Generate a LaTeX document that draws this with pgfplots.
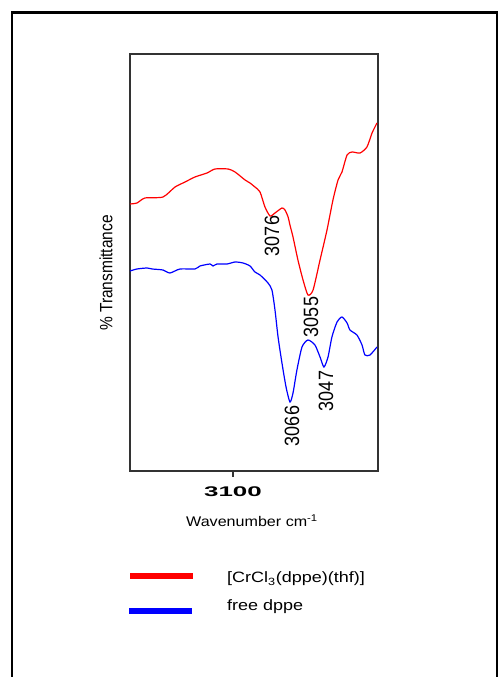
\documentclass[border=0pt]{standalone}
\usepackage{pgfplots}
\pgfplotsset{compat=1.18}
\usepackage{fontspec}
\setmainfont{Liberation Sans}
\begin{document}
\begin{tikzpicture}[x=1pt,y=1pt]
\useasboundingbox (0pt,0pt) rectangle (503pt,677pt);
\draw[line width=2.5pt, black] (12pt,-20pt) rectangle (497pt,664.5pt);
\begin{axis}[at={(130pt,206pt)}, anchor=south west, scale only axis,
  width=248pt, height=417pt,
  x dir=reverse, xmin=3014.7, xmax=3160.6, ymin=0, ymax=417,
  xtick={3100}, xticklabels={}, ytick=\empty,
  tick align=outside, major tick length=6pt, xtick pos=bottom,
  tick style={line width=1.2pt, black!80},
  axis line style={line width=1.3pt, black!80},
  clip=false]
\addplot[red, line width=1.2pt, smooth, tension=0.4] coordinates {
(3160.6,267) (3156.5,268) (3151.8,273) (3141.2,274) (3134.1,284) (3128.2,289)
(3122.4,294) (3115.3,298) (3110.6,302) (3102.9,302) (3098.8,299) (3092.9,291)
(3090,288) (3087.1,284) (3084.1,279) (3081.2,264) (3078.2,255) (3075.3,258)
(3071.2,263) (3069.4,261) (3067.6,254) (3066.5,246) (3064.7,234) (3061.8,211)
(3058.8,191) (3055.9,176) (3052.9,181) (3048.8,211) (3044.7,241) (3041.2,271)
(3038.2,291) (3035.9,299) (3032.9,316) (3030,319) (3025.3,318) (3021.2,324)
(3018.2,338) (3015.3,348)};
\addplot[blue, line width=1.2pt, smooth, tension=0.4] coordinates {
(3160.6,200) (3156.5,202) (3150.6,203) (3147.6,202) (3141.2,201) (3137.1,198)
(3131.2,202) (3122.4,202) (3119.4,205) (3113.5,207) (3111.8,205) (3109.4,207)
(3103.5,207) (3098.8,209) (3094.1,208) (3090,205) (3087.1,199) (3084.1,196)
(3079.4,188) (3077.1,181) (3075.3,161) (3073.5,134) (3071.2,108) (3068.8,84)
(3066.5,69) (3064.7,78) (3062.4,101) (3059.4,124) (3055.9,131) (3051.8,126)
(3048.8,114) (3046.5,104) (3044.1,114) (3041.8,134) (3038.8,149) (3035.9,154)
(3032.9,148) (3031.2,141) (3027.1,136) (3024.1,126) (3022.4,116) (3019.4,116)
(3015.3,124)};
\node[font=\fontsize{14}{16}\selectfont] at (axis cs:3100,0) [yshift=-21pt] {\scalebox{1.85}[1]{\bfseries 3100}};
\node[font=\fontsize{14}{16}\selectfont] at (rel axis cs:0.5,0) [xshift=-2pt, yshift=-50pt] {\scalebox{1.15}[1]{Wavenumber cm\textsuperscript{-1}}};
\node[font=\fontsize{15.5}{17}\selectfont, rotate=90] at (axis cs:3174.7,198) {\scalebox{1}[1.15]{\% Transmittance}};
\node[font=\fontsize{18}{20}\selectfont, rotate=90] at (axis cs:3077.1,235) {\scalebox{1}[1.15]{3076}};
\node[font=\fontsize{18}{20}\selectfont, rotate=90] at (axis cs:3054.1,154) {\scalebox{1}[1.15]{3055}};
\node[font=\fontsize{18}{20}\selectfont, rotate=90] at (axis cs:3065.3,45) {\scalebox{1}[1.15]{3066}};
\node[font=\fontsize{18}{20}\selectfont, rotate=90] at (axis cs:3045.3,80) {\scalebox{1}[1.15]{3047}};
\end{axis}
\draw[red, line width=6pt] (130pt,101pt) -- (193pt,101pt);
\draw[blue, line width=6pt] (129pt,66pt) -- (192pt,66pt);
\node[anchor=base west, inner sep=0pt, font=\fontsize{15}{17}\selectfont] at (227pt,94pt) {\scalebox{1.2}[1]{[CrCl\textsubscript{3}(dppe)(thf)]}};
\node[anchor=base west, inner sep=0pt, font=\fontsize{15}{17}\selectfont] at (227pt,66pt) {\scalebox{1.2}[1]{free dppe}};
\end{tikzpicture}
\end{document}
